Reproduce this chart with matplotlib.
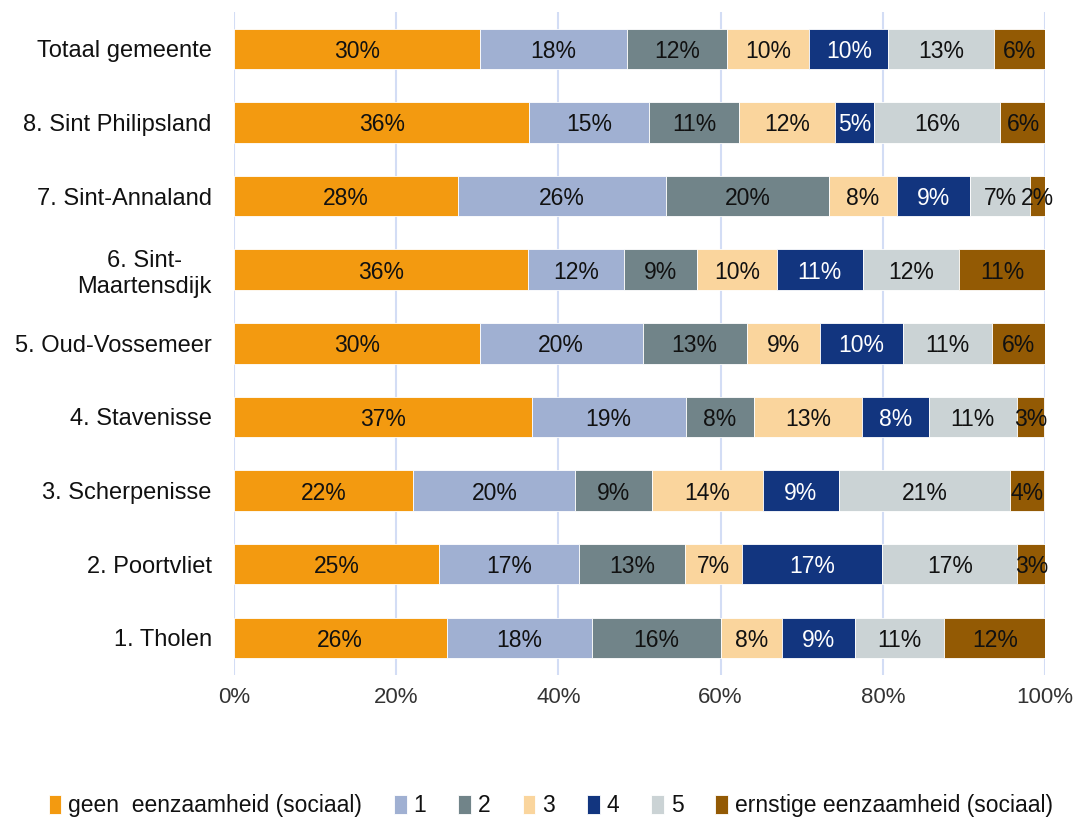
import matplotlib.pyplot as plt
import numpy as np

plt.rcParams['font.family'] = ['Liberation Sans', 'DejaVu Sans']

# ── data (bottom to top) ──────────────────────────────────────
areas = ['1. Tholen', '2. Poortvliet', '3. Scherpenisse', '4. Stavenisse',
         '5. Oud-Vossemeer', '6. Sint-\nMaartensdijk', '7. Sint-Annaland',
         '8. Sint Philipsland', 'Totaal gemeente']

series_names = ['geen  eenzaamheid (sociaal)', '1', '2', '3', '4', '5',
                'ernstige eenzaamheid (sociaal)']

geen     = [26.2, 25.3, 22.1, 36.7, 30.3, 36.2, 27.6, 36.4, 30.3]
s1       = [17.9, 17.2, 20.0, 19.0, 20.1, 11.9, 25.7, 14.8, 18.1]
s2       = [15.9, 13.1,  9.4,  8.4, 12.8,  9.0, 20.1, 11.1, 12.4]
s3       = [ 7.6,  7.0, 13.7, 13.3,  9.1,  9.8,  8.3, 11.8, 10.1]
s4       = [ 9.0, 17.3,  9.4,  8.3, 10.2, 10.6,  9.1,  4.8,  9.8]
s5       = [11.0, 16.7, 21.1, 10.8, 11.0, 11.9,  7.4, 15.6, 13.0]
ernstig  = [12.4,  3.4,  4.2,  3.4,  6.5, 10.6,  1.8,  5.6,  6.3]

series = [geen, s1, s2, s3, s4, s5, ernstig]
colors = ['#F39A10', '#A0B0D2', '#718489', '#FAD59D', '#12357F', '#CBD3D5', '#935A04']
text_colors = ['#111111', '#111111', '#111111', '#111111', 'white', '#111111', '#111111']

# ── figure ────────────────────────────────────────────────────
fig = plt.figure(figsize=(10.8, 8.18), dpi=100)
ax = fig.add_axes([0.2167, 0.1753, 0.7509, 0.81])

y = np.arange(len(areas))
left = np.zeros(len(areas))
for vals, col, tcol, name in zip(series, colors, text_colors, series_names):
    vals = np.array(vals)
    ax.barh(y, vals, left=left, height=0.55, color=col, label=name,
            edgecolor='white', linewidth=0.6)
    for yi, (l, v) in enumerate(zip(left, vals)):
        ax.text(l + v / 2, yi, f'{v:.0f}%', ha='center', va='center_baseline',
                fontsize=16.5, color=tcol)
    left += vals

ax.set_xlim(0, 100)
ax.set_ylim(-0.5, len(areas) - 0.5)
ax.set_xticks(range(0, 101, 20))
ax.set_xticklabels([f'{t}%' for t in range(0, 101, 20)], fontsize=16, color='#333333')
ax.set_yticks(y)
ax.set_yticklabels(areas, fontsize=17, color='#111111', multialignment='center')
ax.tick_params(axis='both', length=0)
ax.tick_params(axis='y', pad=16)
ax.tick_params(axis='x', pad=9)
for s in ax.spines.values():
    s.set_visible(False)
ax.grid(axis='x', color='#D3DDF5', linewidth=1.5)
ax.set_axisbelow(True)

fig.legend(loc='lower center', bbox_to_anchor=(0.51, -0.024), ncol=7,
           frameon=False, fontsize=16.5, handlelength=0.55, handleheight=0.9,
           handletextpad=0.3, columnspacing=1.4, labelcolor='#111111')

fig.savefig('out.png', dpi=100, facecolor='white')
